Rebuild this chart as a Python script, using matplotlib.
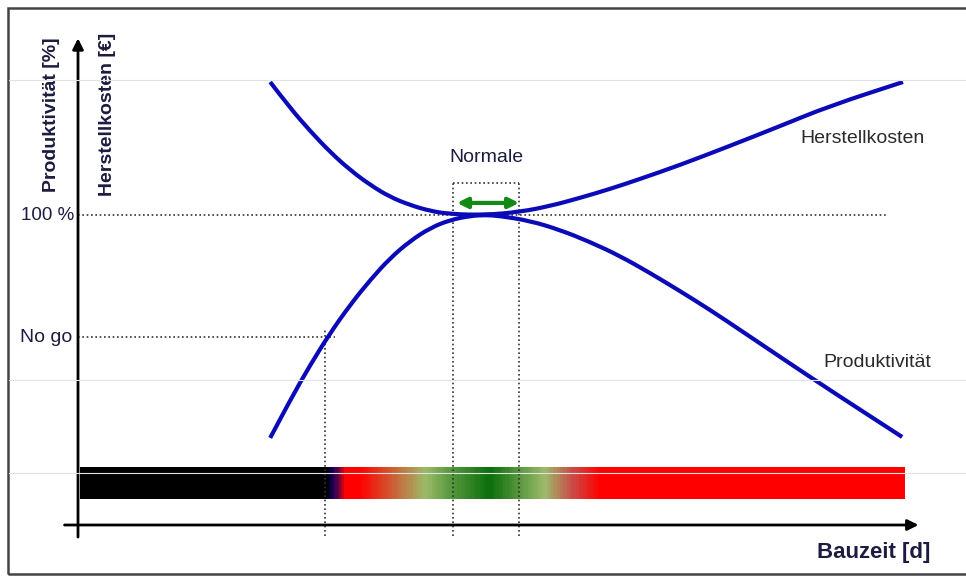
import numpy as np
import matplotlib
matplotlib.use("Agg")
import matplotlib.pyplot as plt
from matplotlib.path import Path
from matplotlib.patches import PathPatch, Rectangle
from matplotlib.colors import LinearSegmentedColormap
from matplotlib.lines import Line2D

plt.rcParams['font.family'] = ['Liberation Sans', 'DejaVu Sans']

# Bauzeit relative to the normal build time (normal = 100), values in %
kosten_x = [47.1, 52.0, 56.9, 61.8, 66.7, 71.6, 76.5, 81.4, 86.3, 91.2, 99.8,
            108.3, 115.7, 123.0, 130.4, 137.7, 147.5, 159.8, 172.1, 184.3,
            202.2]
kosten_y = [142.9, 134.5, 127.1, 120.3, 114.5, 109.7, 105.8, 103.2, 101.3,
            100.3, 100.0, 101.0, 102.9, 105.5, 108.4, 111.6, 116.1, 122.3,
            128.7, 135.2, 142.9]

prod_x = [47.1, 52.0, 56.9, 61.8, 66.7, 71.6, 76.5, 81.4, 86.3, 91.2, 96.1,
          99.8, 103.4, 110.8, 118.1, 125.5, 132.8, 140.2, 147.5, 154.9, 162.3,
          172.1, 184.3, 202.0]
prod_y = [28.1, 40.3, 51.6, 61.9, 71.0, 79.0, 86.1, 91.6, 95.8, 98.4, 99.7,
          100.0, 99.7, 98.1, 95.2, 91.3, 86.8, 81.3, 75.5, 69.4, 62.9, 54.2,
          43.5, 28.4]

no_go_x = 60.5
no_go_y = 60.6
normal_range = [91.9, 108.1]

# colour band along the time axis
band_stops = [0.5, 60.5, 62.5, 65.5, 69, 85, 91, 101, 114.5, 121, 128, 202.7]
band_colors = ['#000000', '#000000', '#1a0060', '#ff0000', '#ff0000',
               '#9dbb6a', '#5a9a40', '#0b6e0b', '#9dbb6a', '#c8504a',
               '#ff0000', '#ff0000']

BLUE = '#0a0ab8'
NAVY = '#1c1c40'


def smooth_path(xs, ys):
    # quadratic bezier through midpoints, only for a smooth drawing
    verts = [(xs[0], ys[0])]
    codes = [Path.MOVETO]
    for i in range(1, len(xs) - 1):
        verts.append((xs[i], ys[i]))
        verts.append(((xs[i] + xs[i + 1]) / 2, (ys[i] + ys[i + 1]) / 2))
        codes += [Path.CURVE3, Path.CURVE3]
    verts.append((xs[-1], ys[-1]))
    codes.append(Path.LINETO)
    return Path(verts, codes)


fig = plt.figure(figsize=(9.66, 5.77), dpi=100)
ax = fig.add_axes([0, 0, 1, 1])
ax.axis('off')

# frame and faint background lines
fig.patches.append(Rectangle((8 / 966, 3 / 577), 1.2, 566 / 577,
                             transform=fig.transFigure, fill=False,
                             edgecolor='#444444', linewidth=1.8))
for yy in [497 / 577, 197 / 577, 104 / 577]:
    fig.lines.append(Line2D([9 / 966, 1], [yy, yy], transform=fig.transFigure,
                            color='#e2e2e2', linewidth=0.8))

# colour band
pos = [(s - band_stops[0]) / (band_stops[-1] - band_stops[0]) for s in band_stops]
cmap = LinearSegmentedColormap.from_list('band', list(zip(pos, band_colors)))
grad = np.linspace(0, 1, 600).reshape(1, -1)
ax.imshow(grad, cmap=cmap, aspect='auto',
          extent=[band_stops[0], band_stops[-1], 8.4, 18.7], zorder=1)

dot = dict(color='#333333', linewidth=1.2, linestyle=(0, (1, 1.6)), zorder=2)

# guide lines
ax.plot([0, 198.5], [100, 100], **dot)
ax.plot([0, 63], [no_go_y, no_go_y], **dot)
ax.plot([no_go_x, no_go_x], [-3.5, no_go_y + 3], **dot)
for nx in normal_range:
    ax.plot([nx, nx], [-3.5, 110.3], **dot)
ax.plot(normal_range, [110.3, 110.3], **dot)

# curves
for xs, ys in [(kosten_x, kosten_y), (prod_x, prod_y)]:
    ax.add_patch(PathPatch(smooth_path(xs, ys), facecolor='none',
                           edgecolor=BLUE, linewidth=3, capstyle='butt',
                           zorder=4))

# normal range arrow
ax.annotate('', xy=(normal_range[0] + 1, 103.9),
            xytext=(normal_range[1], 103.9),
            arrowprops=dict(arrowstyle='<|-|>', color='#138a13', lw=3,
                            mutation_scale=15, shrinkA=0, shrinkB=0),
            zorder=5)

# axes arrows
ax.annotate('', xy=(206, 0), xytext=(-3.3, 0),
            arrowprops=dict(arrowstyle='-|>', color='black', lw=2,
                            mutation_scale=16, shrinkA=0, shrinkB=0))
ax.annotate('', xy=(0, 157), xytext=(0, -3.9),
            arrowprops=dict(arrowstyle='-|>', color='black', lw=2,
                            mutation_scale=16, shrinkA=0, shrinkB=0))

# texts
ax.text(-1, 100, '100 %', ha='right', va='center', fontsize=13.5, color=NAVY)
ax.text(-1.5, no_go_y, 'No go', ha='right', va='center', fontsize=14,
        color=NAVY)
ax.text(100.2, 118.7, 'Normale', ha='center', va='center', fontsize=14,
        color=NAVY)
ax.text(177, 124.8, 'Herstellkosten', ha='left', va='center', fontsize=14,
        color='#2a2a2a')
ax.text(182.6, 52.3, 'Produktivität', ha='left', va='center', fontsize=14,
        color='#2a2a2a')
ax.text(208.8, -9.0, 'Bauzeit [d]', ha='right', va='center', fontsize=16,
        fontweight='bold', color=NAVY)
ax.text(-6.4, 132.3, 'Produktivität [%]', ha='center', va='center',
        rotation=90, fontsize=14, fontweight='bold', color=NAVY)
ax.text(7.35, 132.3, 'Herstellkosten [€]', ha='center', va='center',
        rotation=90, fontsize=14, fontweight='bold', color=NAVY)

ax.set_xlim(-78 / 4.08, 888 / 4.08)
ax.set_ylim(-52 / 3.1, 525 / 3.1)

fig.savefig('out.png', dpi=100)
